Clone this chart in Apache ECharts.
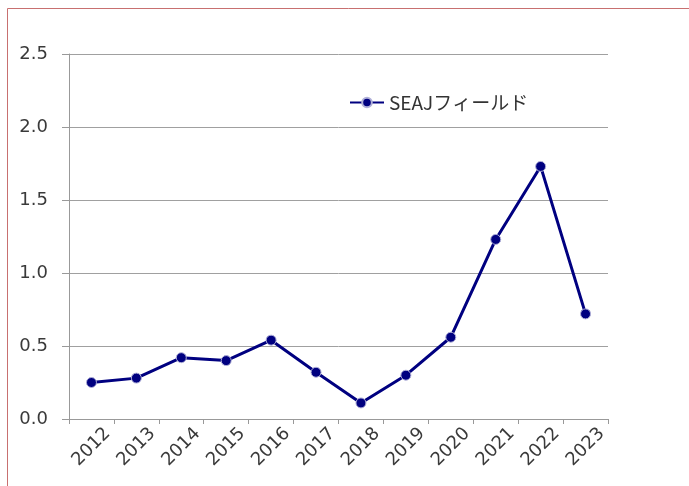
<!DOCTYPE html>
<html><head><meta charset="utf-8">
<script src="https://cdn.jsdelivr.net/npm/echarts@6/dist/echarts.min.js"></script>
<style>html,body{margin:0;padding:0;background:#fff}#c{width:689px;height:486px}</style>
</head><body><div id="c"></div>
<script>
const categories = ['2012','2013','2014','2015','2016','2017','2018','2019','2020','2021','2022','2023'];
const seaj = [0.25,0.28,0.42,0.40,0.54,0.32,0.11,0.30,0.56,1.23,1.73,0.72];
const seriesName = 'SEAJフィールド';
const font = '"DejaVu Sans", "Noto Sans CJK JP", sans-serif';
const chart = echarts.init(document.getElementById('c'));
chart.setOption({
  animation: false,
  graphic: [{type:'rect', shape:{x:7.5,y:8.5,width:700,height:500}, style:{fill:'none', stroke:'#c87070', lineWidth:1}}],
  grid: {left:69, right:81, top:54, bottom:67},
  legend: {data:[seriesName], left:344, top:88, itemWidth:34, itemHeight:12, itemGap:3,
    textStyle:{fontFamily:'"Noto Sans CJK JP", sans-serif', fontSize:19, color:'#333'}},
  xAxis: {type:'category', data:categories, boundaryGap:true,
    axisLine:{lineStyle:{color:'#999', width:1}},
    axisTick:{show:true, length:5, lineStyle:{color:'#999'}},
    axisLabel:{rotate:45, align:'center', verticalAlign:'middle', fontFamily:font, fontSize:18, color:'#3a3a3a', margin:28}},
  yAxis: {type:'value', min:0, max:2.5, interval:0.5,
    axisLine:{show:true, lineStyle:{color:'#999'}},
    axisTick:{show:true, length:7, lineStyle:{color:'#999'}},
    splitLine:{lineStyle:{color:'#a0a0a0', width:1}},
    axisLabel:{formatter:v=>v.toFixed(1), fontFamily:font, fontSize:18, color:'#3a3a3a', margin:21}},
  series: [{name:seriesName, type:'line', data:seaj, symbol:'circle', symbolSize:10,
    lineStyle:{color:'#000080', width:3}, itemStyle:{color:'#000080', borderColor:'#b0b0d8', borderWidth:1}}]
});
</script></body></html>
